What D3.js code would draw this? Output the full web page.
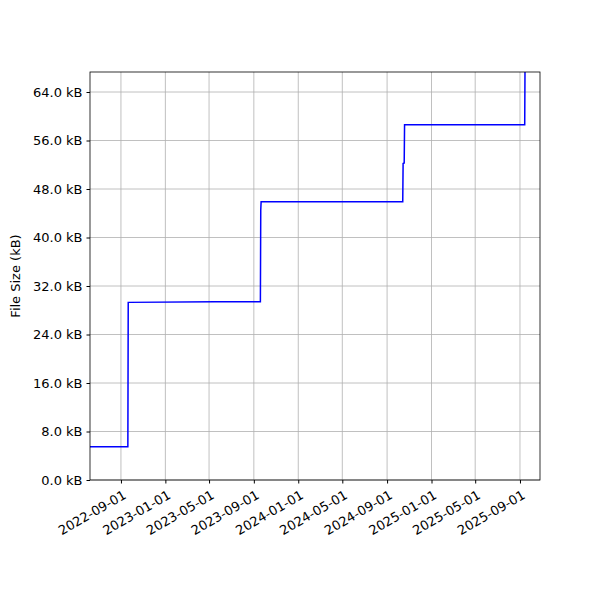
<!DOCTYPE html><html><head><meta charset="utf-8"><script src="https://cdn.jsdelivr.net/npm/d3@7"></script>
<style>body{margin:0;background:#fff}text{font-family:"DejaVu Sans";font-size:13px}</style></head><body><svg id="c" width="600" height="600"></svg>
<script>
const dates=["2022-06-08","2022-09-20","2022-09-21","2023-05-17","2023-09-19","2023-09-20","2023-09-21","2024-10-14","2024-10-15","2024-10-18","2024-10-19","2025-09-14","2025-09-15"];
const sizes=[5.5,5.5,29.3,29.4,29.4,44.5,45.9,45.9,52.2,52.3,58.6,58.6,70];
const endDate="2025-10-26";
const yTicks=[0,8,16,24,32,40,48,56,64];
const xTicks=["2022-09-01","2023-01-01","2023-05-01","2023-09-01","2024-01-01","2024-05-01","2024-09-01","2025-01-01","2025-05-01","2025-09-01"];
const p=d3.timeParse("%Y-%m-%d");
const svg=d3.select("#c");
const L=90,R=540,T=72,B=480;
const x=d3.scaleTime().domain([p(dates[0]),p(endDate)]).range([L,R]);
const y=d3.scaleLinear().domain([0,67.3]).range([B,T]);
const g=svg.append("g");
g.selectAll(".gx").data(xTicks).join("line").attr("x1",d=>x(p(d))).attr("x2",d=>x(p(d))).attr("y1",T).attr("y2",B).attr("stroke","#b0b0b0").attr("stroke-width",0.8);
g.selectAll(".gy").data(yTicks).join("line").attr("y1",d=>y(d)).attr("y2",d=>y(d)).attr("x1",L).attr("x2",R).attr("stroke","#b0b0b0").attr("stroke-width",0.8);
svg.append("defs").append("clipPath").attr("id","cp").append("rect").attr("x",L).attr("y",T).attr("width",R-L).attr("height",B-T);
const pts=dates.map((d,i)=>[p(d),sizes[i]]);
svg.append("path").attr("clip-path","url(#cp)").attr("d",d3.line().x(d=>x(d[0])).y(d=>y(d[1]))(pts)).attr("fill","none").attr("stroke","blue").attr("stroke-width",1.5);
const ya=svg.append("g").attr("transform",`translate(${L},0)`).call(d3.axisLeft(y).tickValues(yTicks).tickFormat(d=>d.toFixed(1)+" kB").tickSize(3.5).tickPadding(4));
const xa=svg.append("g").attr("transform",`translate(0,${B})`).call(d3.axisBottom(x).tickValues(xTicks.map(p)).tickFormat(d3.timeFormat("%Y-%m-%d")).tickSize(3.5));
xa.selectAll("text").attr("text-anchor","end").attr("transform","rotate(-30)").attr("dx","-0.3em").attr("dy","0.9em");
[ya,xa].forEach(a=>{a.select(".domain").remove();a.selectAll("text").style("font-size","13px").attr("fill","#000");});
svg.append("rect").attr("x",L).attr("y",T).attr("width",R-L).attr("height",B-T).attr("fill","none").attr("stroke","#000").attr("stroke-width",0.8);
svg.append("text").attr("transform",`translate(20,${(T+B)/2}) rotate(-90)`).attr("text-anchor","middle").text("File Size (kB)");
</script></body></html>
